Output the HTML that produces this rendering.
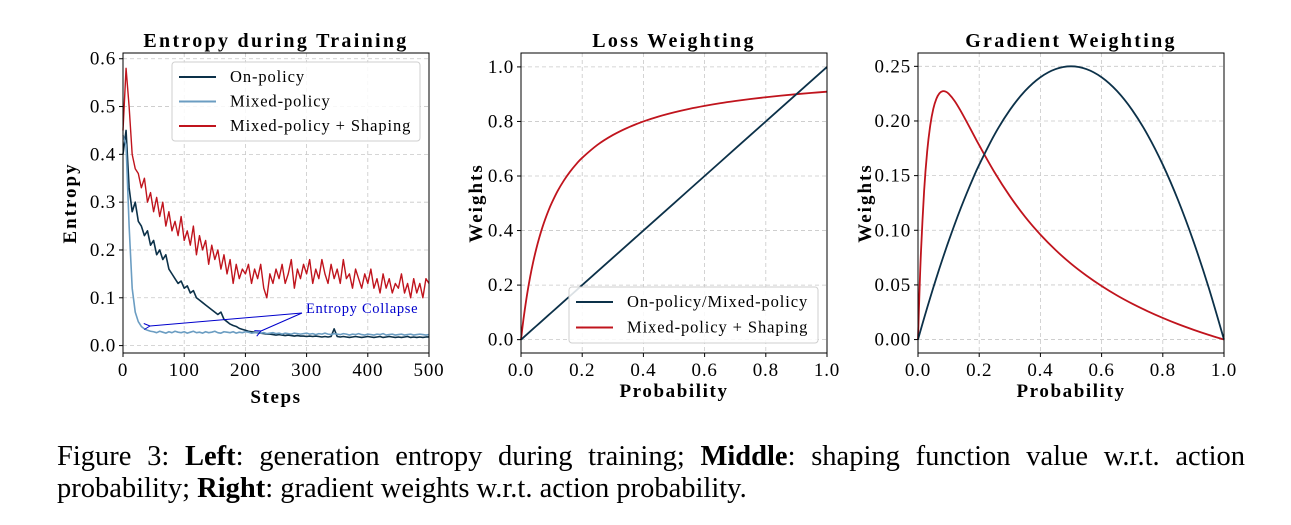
<!DOCTYPE html>
<html><head><meta charset="utf-8"><style>
body{margin:0;background:#fff;width:1291px;height:525px;overflow:hidden;position:relative}
svg{position:absolute;left:0;top:0}
.cap{position:absolute;left:57px;width:1188px;font-family:"Liberation Serif",serif;font-size:28.5px;line-height:31px;color:#000;white-space:nowrap}
#cap1{top:441px;text-align:justify;text-align-last:justify;white-space:normal}
#cap2{top:473px}
</style></head><body>
<svg id="fig" width="1291" height="525" font-family="Liberation Serif, serif"></svg>
<div id="cap1" class="cap">Figure 3: <b>Left</b>: generation entropy during training; <b>Middle</b>: shaping function value w.r.t. action</div>
<div id="cap2" class="cap">probability; <b>Right</b>: gradient weights w.r.t. action probability.</div>
<script>
// ---- data ----
const steps = Array.from({length:101},(_, i)=>i*5);
const entropyShaping = [0.45,0.58,0.50,0.40,0.37,0.36,0.33,0.35,0.30,0.32,0.28,0.31,0.27,0.30,0.25,0.28,0.24,0.26,0.23,0.27,0.22,0.24,0.21,0.25,0.19,0.23,0.20,0.22,0.17,0.21,0.18,0.20,0.16,0.19,0.15,0.18,0.13,0.17,0.14,0.16,0.15,0.17,0.13,0.16,0.14,0.17,0.12,0.10,0.15,0.13,0.16,0.14,0.17,0.13,0.15,0.18,0.12,0.16,0.14,0.17,0.15,0.18,0.13,0.16,0.14,0.18,0.15,0.13,0.17,0.14,0.16,0.13,0.18,0.14,0.15,0.12,0.16,0.14,0.12,0.15,0.13,0.16,0.12,0.14,0.11,0.15,0.12,0.14,0.11,0.13,0.12,0.15,0.11,0.13,0.10,0.14,0.11,0.13,0.10,0.14,0.13];
const entropyOnPolicy = [0.40,0.45,0.33,0.28,0.30,0.26,0.25,0.23,0.24,0.21,0.22,0.19,0.20,0.18,0.19,0.16,0.15,0.14,0.13,0.135,0.12,0.125,0.11,0.115,0.10,0.095,0.09,0.085,0.08,0.075,0.07,0.065,0.07,0.055,0.05,0.045,0.042,0.040,0.036,0.034,0.032,0.030,0.029,0.028,0.027,0.026,0.025,0.024,0.024,0.023,0.022,0.023,0.022,0.021,0.022,0.021,0.020,0.021,0.020,0.020,0.019,0.020,0.019,0.020,0.019,0.018,0.019,0.018,0.019,0.035,0.019,0.018,0.019,0.018,0.017,0.018,0.019,0.018,0.017,0.018,0.019,0.018,0.017,0.018,0.019,0.017,0.018,0.019,0.018,0.017,0.018,0.017,0.018,0.019,0.017,0.018,0.017,0.018,0.017,0.018,0.018];
const entropyMixed = [0.44,0.42,0.25,0.12,0.07,0.05,0.040,0.035,0.032,0.030,0.029,0.027,0.030,0.028,0.026,0.029,0.027,0.030,0.028,0.027,0.029,0.026,0.028,0.030,0.027,0.028,0.026,0.029,0.027,0.028,0.030,0.027,0.026,0.029,0.028,0.027,0.029,0.026,0.028,0.027,0.029,0.028,0.026,0.027,0.028,0.026,0.027,0.025,0.026,0.027,0.025,0.026,0.024,0.026,0.025,0.024,0.026,0.025,0.024,0.025,0.026,0.024,0.025,0.023,0.025,0.024,0.026,0.024,0.023,0.025,0.024,0.023,0.025,0.024,0.022,0.024,0.023,0.025,0.023,0.022,0.024,0.023,0.022,0.024,0.023,0.025,0.022,0.023,0.024,0.022,0.023,0.024,0.022,0.023,0.024,0.022,0.023,0.024,0.023,0.022,0.023];
const probs = [0,0.005,0.01,0.02,0.03,0.04,0.05,0.06,0.07,0.08,0.09,0.1,0.12,0.14,0.16,0.18,0.2,0.25,0.3,0.35,0.4,0.45,0.5,0.55,0.6,0.65,0.7,0.75,0.8,0.85,0.9,0.95,1.0];
const lossLinear = [0,0.005,0.01,0.02,0.03,0.04,0.05,0.06,0.07,0.08,0.09,0.1,0.12,0.14,0.16,0.18,0.2,0.25,0.3,0.35,0.4,0.45,0.5,0.55,0.6,0.65,0.7,0.75,0.8,0.85,0.9,0.95,1.0];
const lossShaping = [0,0.0476,0.0909,0.1667,0.2308,0.2857,0.3333,0.375,0.4118,0.4444,0.4737,0.5,0.5455,0.5833,0.6154,0.6429,0.6667,0.7143,0.75,0.7778,0.8,0.8182,0.8333,0.8462,0.8571,0.8667,0.875,0.8824,0.8889,0.8947,0.9,0.9048,0.9091];
const gradLinear = [0,0.004975,0.0099,0.0196,0.0291,0.0384,0.0475,0.0564,0.0651,0.0736,0.0819,0.09,0.1056,0.1204,0.1344,0.1476,0.16,0.1875,0.21,0.2275,0.24,0.2475,0.25,0.2475,0.24,0.2275,0.21,0.1875,0.16,0.1275,0.09,0.0475,0];
const gradShaping = [0,0.0451,0.0818,0.1361,0.1722,0.1959,0.2111,0.2203,0.2253,0.2272,0.2269,0.225,0.2182,0.209,0.1988,0.1883,0.1778,0.1531,0.1313,0.1123,0.096,0.0818,0.0694,0.0586,0.049,0.0404,0.0328,0.026,0.0198,0.0141,0.009,0.0043,0];
const entropyTicksX = [0,100,200,300,400,500];
const entropyTicksY = [0.0,0.1,0.2,0.3,0.4,0.5,0.6];
const probTicks = [0,0.2,0.4,0.6,0.8,1.0];
const lossTicksY = [0,0.2,0.4,0.6,0.8,1.0];
const gradTicksY = [0,0.05,0.10,0.15,0.20,0.25];

const NAVY='#0c3149', LIGHT='#6b9dc2', RED='#c0141d';
const svg=document.getElementById('fig');
const NS='http://www.w3.org/2000/svg';
function mk(tag,attrs,parent){const e=document.createElementNS(NS,tag);for(const k in attrs)e.setAttribute(k,attrs[k]);(parent||svg).appendChild(e);return e;}
function smoothPath(pts){
  let d='M'+pts[0][0].toFixed(2)+','+pts[0][1].toFixed(2);
  for(let i=0;i<pts.length-1;i++){
    const p0=pts[Math.max(i-1,0)],p1=pts[i],p2=pts[i+1],p3=pts[Math.min(i+2,pts.length-1)];
    const c1=[p1[0]+(p2[0]-p0[0])/6,p1[1]+(p2[1]-p0[1])/6];
    const c2=[p2[0]-(p3[0]-p1[0])/6,p2[1]-(p3[1]-p1[1])/6];
    d+='C'+c1[0].toFixed(2)+','+c1[1].toFixed(2)+' '+c2[0].toFixed(2)+','+c2[1].toFixed(2)+' '+p2[0].toFixed(2)+','+p2[1].toFixed(2);
  }
  return d;
}
function panel(o){
  const g=mk('g',{});
  
  
  const sx=v=>o.x0+(v-o.xmin)/(o.xmax-o.xmin)*(o.x1-o.x0);
  const sy=v=>o.y1-(v-o.ymin)/(o.ymax-o.ymin)*(o.y1-o.y0);
  o.xt.forEach(v=>{const l=mk('line',{x1:sx(v),x2:sx(v),y1:o.y0,y2:o.y1,stroke:'#c8c8c8','stroke-dasharray':'4,3','stroke-width':0.8},g);
    });
  o.yt.forEach(v=>{const l=mk('line',{x1:o.x0,x2:o.x1,y1:sy(v),y2:sy(v),stroke:'#c8c8c8','stroke-dasharray':'4,3','stroke-width':0.8},g);
    });
  o.series.forEach(s=>{
    const pts=s.y.map((v,i)=>[sx(s.x[i]),sy(v)]);
    const d=s.smooth?smoothPath(pts):pts.map((p,i)=>(i?'L':'M')+p[0].toFixed(2)+','+p[1].toFixed(2)).join('');
    const p=mk('path',{d:d,fill:'none',stroke:s.c,'stroke-width':s.w||1.8,'stroke-linejoin':'round'},g);
    
  });
  const r=mk('rect',{x:o.x0,y:o.y0,width:o.x1-o.x0,height:o.y1-o.y0,fill:'none',stroke:'#000','stroke-width':1},g);
  
  o.xt.forEach(v=>{
    mk('line',{x1:sx(v),x2:sx(v),y1:o.y1,y2:o.y1+4,stroke:'#000'},g);
    const t=mk('text',{x:sx(v),y:o.y1+23,'text-anchor':'middle','font-size':19,'letter-spacing':0.8},g);t.textContent=o.xf(v);
    
  });
  o.yt.forEach(v=>{
    mk('line',{x1:o.x0-4,x2:o.x0,y1:sy(v),y2:sy(v),stroke:'#000'},g);
    const t=mk('text',{x:o.x0-7,y:sy(v)+6,'text-anchor':'end','font-size':19,'letter-spacing':0.8},g);t.textContent=o.yf(v);
    
  });
  const ti=mk('text',{x:(o.x0+o.x1)/2,y:47,'text-anchor':'middle','font-size':20,'font-weight':'bold','letter-spacing':2.3},g);ti.textContent=o.title;
  
  const xl=mk('text',{x:(o.x0+o.x1)/2,y:o.xly,'text-anchor':'middle','font-size':19,'font-weight':'bold','letter-spacing':1.6},g);xl.textContent=o.xlabel;
  
  const yl=mk('text',{x:0,y:0,'text-anchor':'middle','font-size':19,'font-weight':'bold','letter-spacing':2,transform:`translate(${o.ylx},${(o.y0+o.y1)/2}) rotate(-90)`},g);yl.textContent=o.ylabel;
  
  return {sx,sy,g};
}
function legend(x,y,w,h,items){
  const g=mk('g',{});
  
  mk('rect',{x:x,y:y,width:w,height:h,rx:3,fill:'#fff','fill-opacity':0.85,stroke:'#cfcfcf'},g);
  items.forEach((it,i)=>{
    const cy=y+15+i*it.gap;
    mk('line',{x1:x+7,x2:x+44,y1:cy,y2:cy,stroke:it.c,'stroke-width':2},g);
    const t=mk('text',{x:x+58,y:cy+5,'font-size':16.5,'letter-spacing':0.9},g);t.textContent=it.label;
    
  });
}
const f1=v=>v.toFixed(1), f2=v=>v.toFixed(2), f0=v=>String(v);

panel({name:'entropy-chart',x0:123,x1:429,y0:53,y1:353,xmin:0,xmax:500,ymin:-0.0155,ymax:0.612,xt:entropyTicksX,yt:entropyTicksY,xf:f0,yf:f1,
  title:'Entropy during Training',xlabel:'Steps',xly:403,ylabel:'Entropy',ylx:76,
  series:[{name:'shaping-entropy-line',x:steps,y:entropyShaping,c:RED,w:1.4},{name:'on-policy-entropy-line',x:steps,y:entropyOnPolicy,c:NAVY,w:1.6},{name:'mixed-policy-entropy-line',x:steps,y:entropyMixed,c:LIGHT,w:1.6}]});
legend(172,62,248,79,[{c:NAVY,label:'On-policy',gap:24.5},{c:LIGHT,label:'Mixed-policy',gap:24.5},{c:RED,label:'Mixed-policy + Shaping',gap:24.5}]);
const ag=mk('g',{});
mk('defs',{},svg).innerHTML='<marker id="ah" markerWidth="8" markerHeight="8" refX="1" refY="4" orient="auto"><path d="M7,1 L1,4 L7,7" fill="none" stroke="#0000cc" stroke-width="1"/></marker>';
mk('line',{x1:302,y1:313,x2:150,y2:326,stroke:'#0000cc','stroke-width':1,'marker-end':'url(#ah)'},ag);
mk('line',{x1:302,y1:313,x2:261,y2:331,stroke:'#0000cc','stroke-width':1,'marker-end':'url(#ah)'},ag);
const at=mk('text',{x:306,y:313,'font-size':14.5,fill:'#0000cc','letter-spacing':0.7},ag);at.textContent='Entropy Collapse';

panel({name:'loss-weighting-chart',x0:521,x1:827,y0:53,y1:353,xmin:0,xmax:1,ymin:-0.049,ymax:1.051,xt:probTicks,yt:lossTicksY,xf:f1,yf:f1,
  title:'Loss Weighting',xlabel:'Probability',xly:397,ylabel:'Weights',ylx:482,
  series:[{name:'shaping-loss-line',x:probs,y:lossShaping,c:RED,smooth:true},{name:'linear-loss-line',x:probs,y:lossLinear,c:NAVY}]});
legend(569,287,249,56,[{c:NAVY,label:'On-policy/Mixed-policy',gap:25.5},{c:RED,label:'Mixed-policy + Shaping',gap:25.5}]);

panel({name:'gradient-weighting-chart',x0:918,x1:1224,y0:53,y1:353,xmin:0,xmax:1,ymin:-0.0123,ymax:0.2622,xt:probTicks,yt:gradTicksY,xf:f1,yf:f2,
  title:'Gradient Weighting',xlabel:'Probability',xly:397,ylabel:'Weights',ylx:871,
  series:[{name:'shaping-gradient-line',x:probs,y:gradShaping,c:RED,smooth:true},{name:'linear-gradient-line',x:probs,y:gradLinear,c:NAVY,smooth:true}]});
</script>
</body></html>
